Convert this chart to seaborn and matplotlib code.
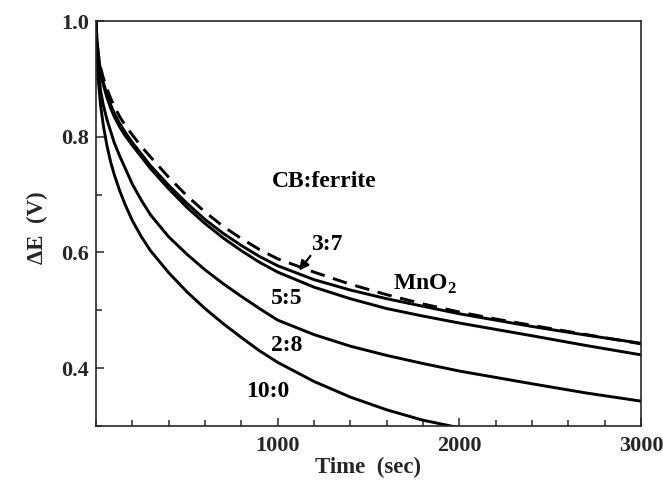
import numpy as np
import pandas as pd
import matplotlib
matplotlib.use("Agg")
import matplotlib.pyplot as plt
from matplotlib.ticker import MultipleLocator, FixedLocator
import seaborn as sns

# Discharge time grid (sec)
time_s = [0, 5, 12, 25, 40, 60, 80, 100, 130, 160, 200, 250, 300, 400, 500, 600,
          700, 800, 900, 1000, 1200, 1400, 1600, 1800, 2000, 2200, 2400, 2700, 3000]

# Cell voltage ΔE (V) for each CB:ferrite ratio and for MnO2
e_10_0 = [1.0, 0.94, 0.90, 0.855, 0.82, 0.785, 0.757, 0.735, 0.707, 0.683, 0.655, 0.627,
          0.603, 0.565, 0.532, 0.503, 0.477, 0.453, 0.43, 0.41, 0.377, 0.35, 0.328,
          0.31, 0.297, None, None, None, None]
e_2_8 = [1.0, 0.95, 0.915, 0.88, 0.855, 0.83, 0.81, 0.79, 0.767, 0.746, 0.718, 0.69,
         0.665, 0.627, 0.597, 0.57, 0.546, 0.524, 0.503, 0.483, 0.458, 0.438, 0.422,
         0.408, 0.395, 0.384, 0.373, 0.357, 0.343]
e_5_5 = [1.0, 0.965, 0.94, 0.91, 0.89, 0.868, 0.85, 0.835, 0.817, 0.802, 0.785, 0.765,
         0.745, 0.71, 0.678, 0.65, 0.625, 0.603, 0.583, 0.566, 0.54, 0.52, 0.503,
         0.49, 0.478, 0.467, 0.456, 0.439, 0.423]
e_3_7 = [1.0, 0.967, 0.942, 0.914, 0.894, 0.873, 0.856, 0.841, 0.823, 0.808, 0.79, 0.77,
         0.75, 0.716, 0.685, 0.657, 0.633, 0.612, 0.593, 0.577, 0.553, 0.535, 0.52,
         0.507, 0.494, 0.483, 0.472, 0.457, 0.443]
e_mno2 = [1.0, 0.97, 0.945, 0.92, 0.902, 0.883, 0.867, 0.853, 0.835, 0.82, 0.803, 0.783,
          0.765, 0.73, 0.698, 0.67, 0.645, 0.624, 0.605, 0.589, 0.566, 0.545, 0.527,
          0.511, 0.497, 0.485, 0.474, 0.458, 0.442]

series_names = ["10:0", "2:8", "5:5", "3:7", "MnO2"]
series_values = [e_10_0, e_2_8, e_5_5, e_3_7, e_mno2]

x_tick_values = [1000, 2000, 3000]
y_tick_values = [0.4, 0.6, 0.8, 1.0]

frames = []
for name, vals in zip(series_names, series_values):
    df = pd.DataFrame({"time": time_s, "dE": vals, "sample": name}).dropna()
    frames.append(df)
data = pd.concat(frames, ignore_index=True)

sns.set_theme(style="ticks")
plt.rcParams["font.family"] = ["Liberation Serif", "DejaVu Serif"]
plt.rcParams["font.weight"] = "bold"
plt.rcParams["axes.labelweight"] = "bold"
plt.rcParams["mathtext.fontset"] = "custom"
plt.rcParams["mathtext.bf"] = "Liberation Serif:bold"
plt.rcParams["mathtext.rm"] = "Liberation Serif:bold"

fig = plt.figure(figsize=(6.63, 4.83), dpi=100)
ax = fig.add_axes([0.1448, 0.118, 0.822, 0.8385])

for name in series_names:
    sub = data[data["sample"] == name]
    if name == "MnO2":
        sns.lineplot(data=sub, x="time", y="dE", ax=ax, color="black",
                     linewidth=2.1, linestyle=(0, (5, 3)), sort=False)
    else:
        sns.lineplot(data=sub, x="time", y="dE", ax=ax, color="black",
                     linewidth=2.1, sort=False)

ax.set_xlim(0, 3000)
ax.set_ylim(0.3, 1.0)
ax.xaxis.set_major_locator(FixedLocator(x_tick_values))
ax.xaxis.set_minor_locator(MultipleLocator(200))
ax.yaxis.set_major_locator(FixedLocator(y_tick_values))
ax.yaxis.set_minor_locator(MultipleLocator(0.1))
ax.tick_params(axis="x", which="major", direction="in", length=6, width=1.1,
               labelsize=16, pad=7)
ax.tick_params(axis="y", which="major", direction="in", length=6, width=1.1,
               labelsize=16, pad=5)
ax.tick_params(axis="both", which="minor", direction="in", length=4, width=1.1)
for lab in ax.get_xticklabels() + ax.get_yticklabels():
    lab.set_fontweight("bold")
for sp in ax.spines.values():
    sp.set_linewidth(1.2)
    sp.set_visible(True)

ax.set_xlabel("Time  (sec)", fontsize=16.5, fontweight="bold", labelpad=1)
ax.set_ylabel("ΔE  (V)", fontsize=16.5, fontweight="bold")
ax.yaxis.set_label_coords(-0.088, 0.49)

txt = dict(fontsize=17, fontweight="bold", color="black")
ax.text(969, 0.723, "CB:ferrite", ha="left", va="center", **txt)
ax.text(1272, 0.613, "3:7", ha="center", va="center", **txt)
ax.annotate("", xy=(1108, 0.565), xytext=(1190, 0.598),
            arrowprops=dict(arrowstyle="-|>", color="black", lw=1.6,
                            mutation_scale=14))
ax.text(1635, 0.544, r"MnO$_\mathbf{2}$", ha="left", va="center", **txt)
ax.text(1050, 0.521, "5:5", ha="center", va="center", **txt)
ax.text(1050, 0.440, "2:8", ha="center", va="center", **txt)
ax.text(946, 0.360, "10:0", ha="center", va="center", **txt)

fig.savefig("out.png", dpi=100)
